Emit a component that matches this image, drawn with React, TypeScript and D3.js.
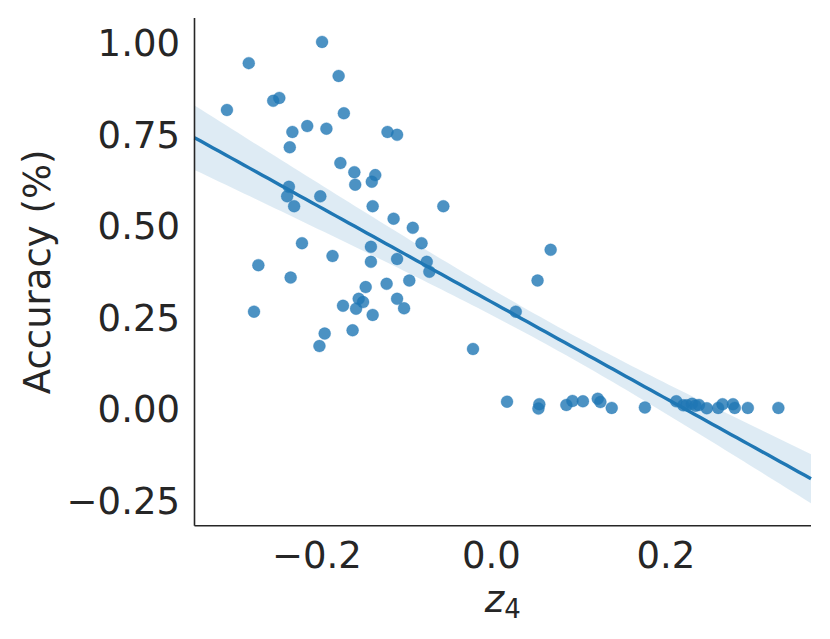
import React, { useEffect, useRef } from 'react';
import * as d3 from 'd3';

// z4 values
const zValues = [
  -0.194, -0.278, -0.175, -0.250, -0.243, -0.303, -0.169, -0.228, -0.211, -0.189,
  -0.119, -0.108, -0.231, -0.173, -0.157, -0.133, -0.137, -0.156, -0.232, -0.234,
  -0.196, -0.226, -0.136, -0.055, -0.112, -0.090, -0.217, -0.080, -0.138, 0.068,
  -0.182, -0.138, -0.108, -0.074, -0.071, -0.267, -0.230, -0.094, -0.120, 0.053,
  -0.144, -0.152, -0.147, -0.108, -0.170, -0.155, -0.100, -0.136, -0.272, 0.028,
  -0.159, -0.191, -0.197, -0.021, 0.018, 0.055, 0.054, 0.086, 0.093, 0.105,
  0.122, 0.125, 0.138, 0.176, 0.212, 0.220, 0.224, 0.230, 0.234, 0.238,
  0.247, 0.260, 0.265, 0.277, 0.279, 0.294, 0.329,
];

// accuracy for each point, same order
const accValues = [
  1.003, 0.945, 0.910, 0.842, 0.850, 0.817, 0.808, 0.757, 0.773, 0.766,
  0.757, 0.749, 0.715, 0.672, 0.647, 0.639, 0.621, 0.613, 0.607, 0.581,
  0.581, 0.554, 0.554, 0.554, 0.520, 0.495, 0.453, 0.453, 0.443, 0.435,
  0.418, 0.402, 0.410, 0.402, 0.375, 0.393, 0.359, 0.351, 0.342, 0.351,
  0.333, 0.301, 0.292, 0.301, 0.282, 0.274, 0.275, 0.257, 0.266, 0.266,
  0.215, 0.206, 0.172, 0.164, 0.020, 0.013, 0.001, 0.011, 0.022, 0.021,
  0.028, 0.019, 0.003, 0.004, 0.021, 0.010, 0.010, 0.014, 0.009, 0.011,
  0.002, 0.003, 0.013, 0.013, 0.003, 0.003, 0.003,
];

const xTicks = [-0.2, 0.0, 0.2];
const yTicks = [-0.25, 0.0, 0.25, 0.5, 0.75, 1.0];

const W = 830;
const H = 639;
const FONT = 'DejaVu Sans, sans-serif';
const FS = 37;
const BLUE = '#1f77b4';

export default () => {
  const svgRef = useRef<SVGSVGElement>(null);

  useEffect(() => {
    if (!svgRef.current) {
      return;
    }

    const left = 194.5, right = 811, top = 18, bottom = 525.7;

    const x = d3.scaleLinear().domain([-0.3402, 0.3664]).range([left, right]);
    const y = d3.scaleLinear().domain([-0.3189, 1.0683]).range([bottom, top]);

    const svg = d3.select(svgRef.current);
    svg.selectAll('*').remove();

    // least squares fit; band uses a robust (sandwich) variance, close to what a bootstrap gives
    const n = zValues.length;
    const mx = d3.mean(zValues) as number;
    const my = d3.mean(accValues) as number;
    const sxx = d3.sum(zValues, (v) => (v - mx) ** 2);
    const sxy = d3.sum(zValues, (v, i) => (v - mx) * (accValues[i] - my));
    const slope = sxy / sxx;
    const res = zValues.map((v, i) => accValues[i] - (my + slope * (v - mx)));
    const varA = d3.sum(res, (e) => e * e) / (n * n);
    const varB = d3.sum(res, (e, i) => (zValues[i] - mx) ** 2 * e * e) / (sxx * sxx);
    const cov = d3.sum(res, (e, i) => (zValues[i] - mx) * e * e) / (n * sxx);
    const t = 1.99;

    const [d0, d1] = x.domain();
    const grid = d3.range(0, 101).map((k) => d0 + (k / 100) * (d1 - d0));
    const fit = grid.map((g) => {
      const dx = g - mx;
      const yh = my + slope * dx;
      const se = Math.sqrt(varA + dx * dx * varB + 2 * dx * cov);
      return { g, yh, lo: yh - t * se, hi: yh + t * se };
    });

    const plot = svg.append('g');

    plot.append('path')
      .datum(fit)
      .attr('d', d3.area<any>().x((d) => x(d.g)).y0((d) => y(d.lo)).y1((d) => y(d.hi)))
      .attr('fill', BLUE)
      .attr('fill-opacity', 0.15);

    plot.selectAll('circle')
      .data(zValues)
      .enter()
      .append('circle')
      .attr('cx', (d) => x(d))
      .attr('cy', (d, i) => y(accValues[i]))
      .attr('r', 6)
      .attr('fill', BLUE)
      .attr('fill-opacity', 0.8)
      .attr('stroke', BLUE)
      .attr('stroke-opacity', 0.5)
      .attr('stroke-width', 0.6);

    plot.append('path')
      .datum(fit)
      .attr('d', d3.line<any>().x((d) => x(d.g)).y((d) => y(d.yh)))
      .attr('fill', 'none')
      .attr('stroke', BLUE)
      .attr('stroke-width', 3.4);

    // spines (left + bottom only)
    svg.append('line')
      .attr('x1', left).attr('x2', left).attr('y1', top).attr('y2', bottom)
      .attr('stroke', '#262626').attr('stroke-width', 1.6);
    svg.append('line')
      .attr('x1', left).attr('x2', right).attr('y1', bottom).attr('y2', bottom)
      .attr('stroke', '#262626').attr('stroke-width', 1.6);

    const fmt = (v: number, p: number) => v.toFixed(p).replace('-', '\u2212');

    svg.selectAll('text.ytick')
      .data(yTicks)
      .enter()
      .append('text')
      .attr('class', 'ytick')
      .attr('x', 180)
      .attr('y', (d) => y(d) + 0.364 * FS)
      .attr('text-anchor', 'end')
      .attr('font-family', FONT)
      .attr('font-size', FS)
      .attr('fill', '#262626')
      .text((d) => fmt(d, 2));

    svg.selectAll('text.xtick')
      .data(xTicks)
      .enter()
      .append('text')
      .attr('class', 'xtick')
      .attr('x', (d) => x(d))
      .attr('y', 568)
      .attr('text-anchor', 'middle')
      .attr('font-family', FONT)
      .attr('font-size', FS)
      .attr('fill', '#262626')
      .text((d) => fmt(d, 1));

    const xl = svg.append('text')
      .attr('x', (left + right) / 2)
      .attr('y', 611.5)
      .attr('text-anchor', 'middle')
      .attr('font-family', FONT)
      .attr('font-size', FS)
      .attr('fill', '#262626');
    xl.append('tspan').attr('font-style', 'italic').text('z');
    xl.append('tspan').attr('font-size', 26).attr('dy', 6.5).text('4');

    svg.append('text')
      .attr('transform', `translate(50, ${(top + bottom) / 2}) rotate(-90)`)
      .attr('text-anchor', 'middle')
      .attr('font-family', FONT)
      .attr('font-size', FS)
      .attr('fill', '#262626')
      .text('Accuracy (%)');
  }, []);

  return (
    <svg
      ref={svgRef}
      width={W}
      height={H}
      style={{ position: 'absolute', left: 0, top: 0, background: '#fff' }}
    />
  );
}
